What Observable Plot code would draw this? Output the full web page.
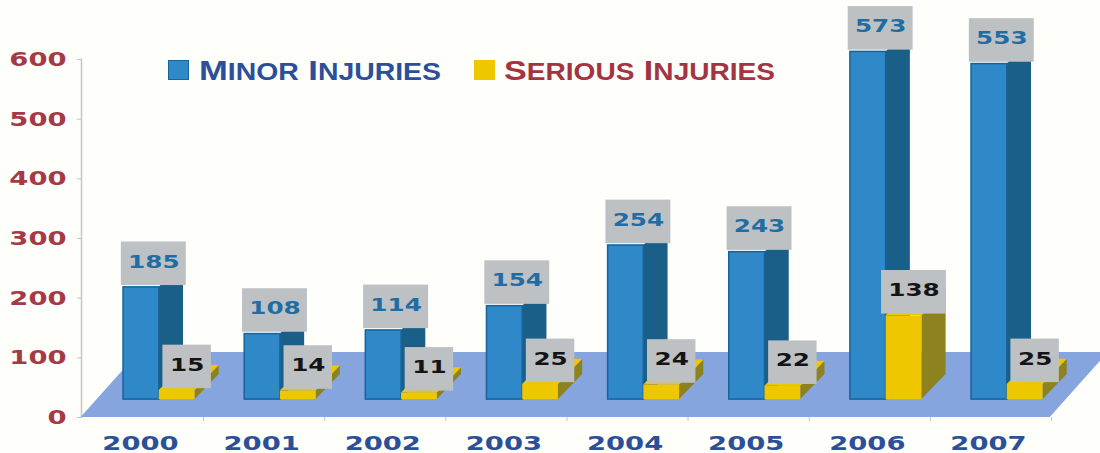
<!DOCTYPE html>
<html>
<head>
<meta charset="utf-8">
<script src="https://cdn.jsdelivr.net/npm/d3@7"></script>
<script src="https://cdn.jsdelivr.net/npm/@observablehq/plot@0.6"></script>
<style>
html,body{margin:0;padding:0;background:#fefefb;width:1100px;height:453px;overflow:hidden}
#wrap{position:relative;width:1100px;height:453px}
.lg{position:absolute;font:bold 28px "Liberation Sans",sans-serif;white-space:nowrap;line-height:1;transform-origin:0 0}
.lg span{font-size:23px;text-transform:uppercase}
.sw{position:absolute;box-sizing:border-box}
</style>
</head>
<body>
<div id="wrap"></div>
<script>
const years   = [2000, 2001, 2002, 2003, 2004, 2005, 2006, 2007];
const minor   = [185, 108, 114, 154, 254, 243, 573, 553];
const serious = [15, 14, 11, 25, 24, 22, 138, 25];
const yTicks  = [0, 100, 200, 300, 400, 500, 600];
const seriesNames = ["Minor Injuries", "Serious Injuries"];

// oblique projection of the chart
const front = 30, stretch = 1.017, depthX = 0.2, depthY = 42;
const top_ = v => front + v * stretch;
const minorBox = {x1: -0.14, x2: 0.155, label: 0.11};
const seriousBox = {x1: 0.155, x2: 0.45, label: 0.385};
const boxH = 73, boxGap = 3;
const floorX = [-0.49, 7.51], floorDepth = 0.48, floorTop = 109;

const rows = years.map((year, i) => ({year, minor: minor[i], serious: serious[i]}));
const floor = [
  {y: 0, x1: years[0] + floorX[0], x2: years[0] + floorX[1]},
  {y: floorTop, x1: years[0] + floorX[0] + floorDepth, x2: years[0] + floorX[1] + floorDepth}
];

function side(key, b) {
  return rows.flatMap(d => [
    {z: d.year, x: d.year + b.x2, y1: front, y2: top_(d[key])},
    {z: d.year, x: d.year + b.x2 + depthX, y1: front + depthY, y2: top_(d[key]) + depthY}
  ]);
}
function lid(key, b) {
  return rows.flatMap(d => [
    {z: d.year, y: top_(d[key]), x1: d.year + b.x1, x2: d.year + b.x2},
    {z: d.year, y: top_(d[key]) + depthY, x1: d.year + b.x1 + depthX, x2: d.year + b.x2 + depthX}
  ]);
}
function boxes(key, b) {
  return rows.map(d => {
    const half = String(d[key]).length === 3 ? 0.268 : 0.2;
    const bottom = top_(d[key]) + boxGap;
    return {
      x1: d.year + b.label - half, x2: d.year + b.label + half,
      y1: bottom, y2: bottom + boxH,
      x: d.year + b.label, y: bottom + boxH / 2, text: String(d[key])
    };
  });
}

const blue = "#2f88c8", blueDark = "#1a5f88", blueEdge = "#17639a";
const yellow = "#efc700", olive = "#8c8220";
const grey = "#bdc1c3";

const plot = Plot.plot({
  width: 1100, height: 453,
  marginLeft: 81, marginRight: 0, marginTop: 59, marginBottom: 36,
  style: {background: "#fefefb", overflow: "visible"},
  x: {domain: [2000, 2007], range: [140, 988], axis: null},
  y: {domain: [0, 600], axis: null},
  marks: [
    Plot.frame({anchor: "left", stroke: "#c4c4c4", strokeWidth: 1.5}),
    Plot.axisY({ticks: yTicks, tickSize: 4, tickPadding: 11, label: null, stroke: "#c4c4c4",
      fontSize: 20, fontWeight: "bold", fontFamily: "DejaVu Sans", fill: "#a53a46"}),
    Plot.axisX({ticks: years.map(y => y + 0.52), tickSize: 4, tickFormat: () => "", label: null, stroke: "#c4c4c4"}),
    Plot.areaX(floor, {y: "y", x1: "x1", x2: "x2", fill: "#86a5de"}),
    // minor
    Plot.areaY(side("minor", minorBox), {x: "x", y1: "y1", y2: "y2", z: "z", fill: blueDark}),
    Plot.rect(rows, {x1: d => d.year + minorBox.x1, x2: d => d.year + minorBox.x2, y1: front, y2: d => top_(d.minor), fill: blue, stroke: blueEdge, strokeWidth: 1.5}),
    // serious
    Plot.areaY(side("serious", seriousBox), {x: "x", y1: "y1", y2: "y2", z: "z", fill: olive}),
    Plot.areaX(lid("serious", seriousBox), {y: "y", x1: "x1", x2: "x2", z: "z", fill: yellow}),
    Plot.rect(rows, {x1: d => d.year + seriousBox.x1, x2: d => d.year + seriousBox.x2, y1: front, y2: d => top_(d.serious), fill: yellow}),
    // value boxes
    Plot.rect(boxes("minor", minorBox), {x1: "x1", x2: "x2", y1: "y1", y2: "y2", fill: grey}),
    Plot.rect(boxes("serious", seriousBox), {x1: "x1", x2: "x2", y1: "y1", y2: "y2", fill: grey}),
    Plot.text(boxes("minor", minorBox), {x: "x", y: "y", dy: -2, text: "text", fill: "#1f6da3", fontSize: 18, fontWeight: "bold", fontFamily: "DejaVu Sans"}),
    Plot.text(boxes("serious", seriousBox), {x: "x", y: "y", dy: -2, text: "text", fill: "#141414", fontSize: 18, fontWeight: "bold", fontFamily: "DejaVu Sans"}),
    // year labels
    Plot.text(rows, {x: "year", y: 0, dy: 26, text: d => String(d.year), fill: "#2b4f98", fontSize: 20, fontWeight: "bold", fontFamily: "DejaVu Sans"})
  ]
});

const wrap = document.getElementById("wrap");
wrap.appendChild(plot);

// wide display face: stretch the installed bold horizontally
plot.querySelectorAll('g[aria-label="text"] text, g[aria-label="y-axis tick label"] text').forEach(t => {
  t.setAttribute("textLength", (t.getComputedTextLength() * 1.37).toFixed(1));
  t.setAttribute("lengthAdjust", "spacingAndGlyphs");
});

// legend
const legend = [
  {name: seriesNames[0], swatch: blue, edge: blueEdge, color: "#2b4f98", sx: 168, tx: 199, w: 242},
  {name: seriesNames[1], swatch: yellow, edge: yellow, color: "#a33441", sx: 474, tx: 504, w: 271}
];
legend.forEach(l => {
  const s = document.createElement("div");
  s.className = "sw";
  s.style.cssText = `left:${l.sx}px;top:60px;width:21px;height:20px;background:${l.swatch};border:1px solid ${l.edge}`;
  wrap.appendChild(s);
  const t = document.createElement("div");
  t.className = "lg";
  // small capitals: initial at full size, the rest smaller
  l.name.split(" ").forEach((word, i) => {
    if (i) t.appendChild(document.createTextNode(" "));
    t.appendChild(document.createTextNode(word[0]));
    const rest = document.createElement("span");
    rest.textContent = word.slice(1);
    t.appendChild(rest);
  });
  t.style.left = l.tx + "px";
  t.style.top = "57px";
  t.style.color = l.color;
  wrap.appendChild(t);
  t.style.transform = `scaleX(${l.w / t.getBoundingClientRect().width})`;
});
</script>
</body>
</html>
